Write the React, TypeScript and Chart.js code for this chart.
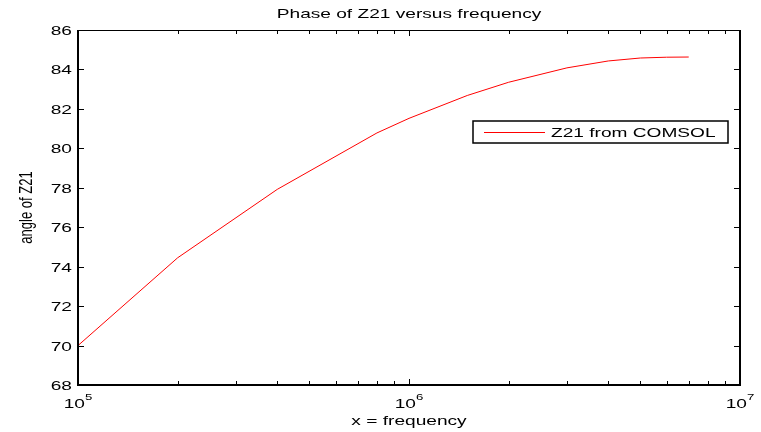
import React, { useEffect, useRef } from "react";
import { Chart, registerables } from "chart.js";

Chart.register(...registerables);

// Phase of Z21 sampled at these frequencies (Hz)
const frequencies = [1e5, 2e5, 4e5, 8e5, 1e6, 1.5e6, 2e6, 3e6, 4e6, 5e6, 6e6, 7e6];
const phaseDeg = [70.0, 74.45, 77.92, 80.78, 81.52, 82.68, 83.35, 84.08, 84.43, 84.58, 84.62, 84.63];

const yTicks = [68, 70, 72, 74, 76, 78, 80, 82, 84, 86];
const xDecades = [5, 6, 7];

const titleText = "Phase of Z21 versus frequency";
const xTitle = "x = frequency";
const yTitle = "angle of Z21";
const seriesLabel = "Z21 from COMSOL";

const FONT = '"Liberation Sans", Arial, Helvetica, sans-serif';
const SX = 1.47; // horizontal text stretch of the figure

function stretchedText(ctx: CanvasRenderingContext2D, s: string, x: number, y: number, align: CanvasTextAlign, baseline: CanvasTextBaseline) {
  ctx.save();
  ctx.translate(x, y);
  ctx.scale(SX, 1);
  ctx.textAlign = align;
  ctx.textBaseline = baseline;
  ctx.fillText(s, 0, 0);
  ctx.restore();
}

const matlabAxes = {
  id: "matlabAxes",
  afterDraw(chart: any) {
    const ctx: CanvasRenderingContext2D = chart.ctx;
    const { left, right, top, bottom } = chart.chartArea;
    const xs = chart.scales.x;
    const ys = chart.scales.y;
    ctx.save();
    ctx.strokeStyle = "#000";
    ctx.fillStyle = "#000";

    // box
    ctx.lineWidth = 1;
    ctx.beginPath();
    ctx.moveTo(left, top + 0.5);
    ctx.lineTo(right, top + 0.5);
    ctx.stroke();
    ctx.lineWidth = 2;
    ctx.beginPath();
    ctx.moveTo(left, top);
    ctx.lineTo(left, bottom);
    ctx.lineTo(right, bottom);
    ctx.lineTo(right, top);
    ctx.stroke();

    // y ticks, inward on both sides
    ctx.lineWidth = 1;
    ctx.font = `13px ${FONT}`;
    for (const v of yTicks) {
      const py = Math.round(ys.getPixelForValue(v)) + 0.5;
      ctx.beginPath();
      ctx.moveTo(left, py);
      ctx.lineTo(left + 6, py);
      ctx.moveTo(right, py);
      ctx.lineTo(right - 6, py);
      ctx.stroke();
      stretchedText(ctx, String(v), left - 6, py + 1, "right", "middle");
    }

    // x ticks: majors at decades, minors at 2..9
    for (let d = xDecades[0]; d < xDecades[xDecades.length - 1]; d++) {
      for (let m = 1; m <= 9; m++) {
        const v = m * Math.pow(10, d);
        const px = Math.round(xs.getPixelForValue(v)) + 0.5;
        const len = m === 1 ? 6 : 4;
        ctx.beginPath();
        ctx.moveTo(px, bottom);
        ctx.lineTo(px, bottom - len);
        ctx.moveTo(px, top);
        ctx.lineTo(px, top + len);
        ctx.stroke();
      }
    }

    // x tick labels 10^n
    for (const d of xDecades) {
      const px = xs.getPixelForValue(Math.pow(10, d));
      ctx.font = `13px ${FONT}`;
      const w1 = ctx.measureText("10").width * SX;
      ctx.font = `9px ${FONT}`;
      const w2 = ctx.measureText(String(d)).width * SX;
      const x0 = px - (w1 + w2) / 2;
      ctx.font = `13px ${FONT}`;
      stretchedText(ctx, "10", x0, bottom + 23, "left", "alphabetic");
      ctx.font = `9px ${FONT}`;
      stretchedText(ctx, String(d), x0 + w1, bottom + 15, "left", "alphabetic");
    }

    // titles
    ctx.font = `13px ${FONT}`;
    const cx = (left + right) / 2;
    stretchedText(ctx, titleText, cx, 18, "center", "alphabetic");
    stretchedText(ctx, xTitle, cx, 425, "center", "alphabetic");
    ctx.save();
    ctx.translate(27, (top + bottom) / 2);
    ctx.scale(SX, 1);
    ctx.rotate(-Math.PI / 2);
    ctx.textAlign = "center";
    ctx.textBaseline = "middle";
    ctx.fillText(yTitle, 0, 0);
    ctx.restore();

    // legend box
    const lx = 473, ly = 121, lw = 255, lh = 22;
    ctx.fillStyle = "#fff";
    ctx.fillRect(lx, ly, lw, lh);
    ctx.strokeStyle = "#000";
    ctx.lineWidth = 1.5;
    ctx.strokeRect(lx, ly, lw, lh);
    ctx.strokeStyle = chart.data.datasets[0].borderColor;
    ctx.lineWidth = 1;
    ctx.beginPath();
    ctx.moveTo(lx + 11, ly + 11.5);
    ctx.lineTo(lx + 72, ly + 11.5);
    ctx.stroke();
    ctx.fillStyle = "#000";
    ctx.font = `13px ${FONT}`;
    stretchedText(ctx, chart.data.datasets[0].label, lx + 78, ly + 12, "left", "middle");

    ctx.restore();
  },
};

export default function App() {
  const canvasRef = useRef<HTMLCanvasElement | null>(null);

  useEffect(() => {
    document.body.style.margin = "0";
    const canvas = canvasRef.current;
    if (!canvas) return;
    const chart = new Chart(canvas, {
      type: "line",
      data: {
        datasets: [
          {
            label: seriesLabel,
            data: frequencies.map((f, i) => ({ x: f, y: phaseDeg[i] })),
            borderColor: "#ff0000",
            borderWidth: 1,
            pointRadius: 0,
            tension: 0,
            fill: false,
          },
        ],
      },
      options: {
        animation: false,
        responsive: false,
        devicePixelRatio: 1,
        layout: { padding: { left: 78, right: 21, top: 30, bottom: 47 } },
        plugins: { legend: { display: false }, title: { display: false }, tooltip: { enabled: false } },
        scales: {
          x: { type: "logarithmic", min: 1e5, max: 1e7, display: false },
          y: { type: "linear", min: 68, max: 86, display: false },
        },
      },
      plugins: [matlabAxes],
    });
    return () => chart.destroy();
  }, []);

  return (
    <div style={{ width: 761, height: 432, background: "#fff" }}>
      <canvas ref={canvasRef} width={761} height={432} />
    </div>
  );
}
